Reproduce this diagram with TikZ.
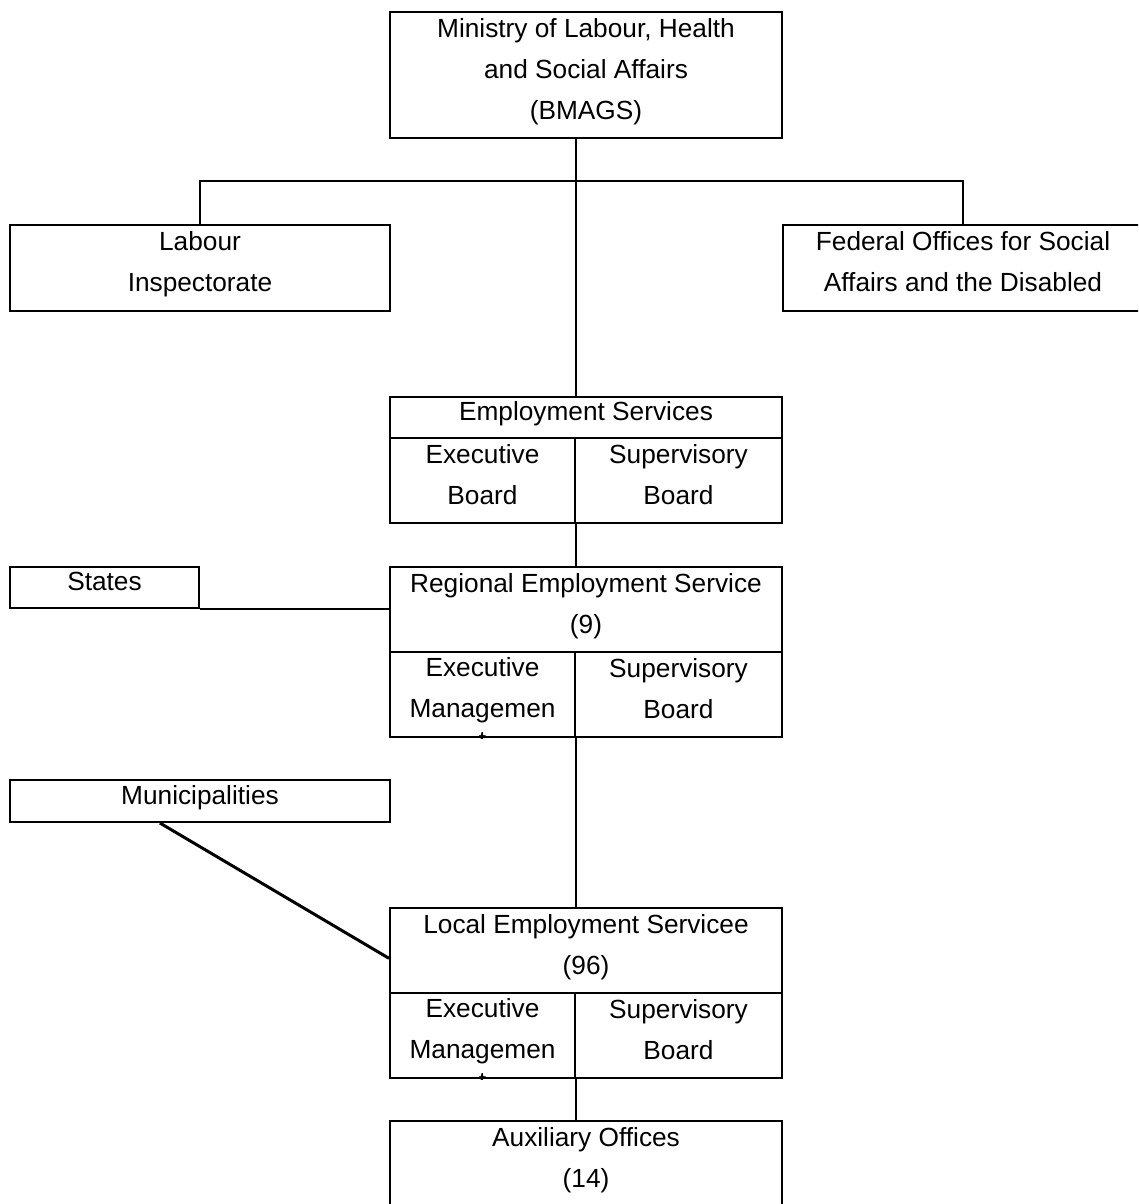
\documentclass[tikz,border=0pt]{standalone}
\usepackage{fontspec}
\setmainfont{Liberation Sans}
\usetikzlibrary{calc}
\begin{document}
\begin{tikzpicture}[x=0.4pt,y=-0.4pt,
  every node/.style={font=\fontsize{10.5}{16.4}\selectfont,align=center,inner sep=0pt,text depth=5pt},
  box/.style={draw,rectangle,line width=.8pt},
  link/.style={line width=.8pt}]
\clip (0,0) rectangle (1138,1204);
\fill [white] (0,0) rectangle (1138,1204);
% ministry and its offices
\node [box,minimum width=156.8pt,minimum height=50.4pt] (min) at (586,75) {Ministry of Labour, Health\\and Social Affairs\\(BMAGS)};
\node [box,minimum width=152pt,minimum height=34.4pt] (lab) at (200,268) {Labour\\Inspectorate};
\node [box,minimum width=144pt,minimum height=34.4pt] (fed) at (963,268) {Federal Offices for Social\\Affairs and the Disabled};
% employment services
\node [box,minimum width=156.8pt,minimum height=16.4pt] (es) at (586,417.5) {Employment Services};
\node [box,minimum width=74pt,minimum height=34pt] (esx) at (482.5,480.5) {Executive\\Board};
\node [box,minimum width=82.8pt,minimum height=34pt] (esy) at (678.5,480.5) {Supervisory\\Board};
% regional level
\node [box,minimum width=75.6pt,minimum height=16.4pt] (sta) at (104.5,587.5) {States};
\node [box,minimum width=156.8pt,minimum height=34pt] (reg) at (586,609.5) {Regional Employment Service\\(9)};
\node [box,minimum width=74pt,minimum height=34pt] (regx) at (482.5,694.5) {};
\begin{scope}
  \clip (regx.north west) rectangle (regx.south east);
  \node [anchor=north] at ($(regx.north)+(0,6)$) {Executive\\Managemen\\[-3.5pt]t};
\end{scope}
\node [box,minimum width=82.8pt,minimum height=34pt] (regy) at (678.5,694.5) {Supervisory\\Board};
% local level
\node [box,minimum width=152pt,minimum height=16.8pt] (mun) at (200,801) {Municipalities};
\node [box,minimum width=156.8pt,minimum height=34pt] (loc) at (586,950.5) {Local Employment Servicee\\(96)};
\node [box,minimum width=74pt,minimum height=34pt] (locx) at (482.5,1035.5) {};
\begin{scope}
  \clip (locx.north west) rectangle (locx.south east);
  \node [anchor=north] at ($(locx.north)+(0,6)$) {Executive\\Managemen\\[-3.5pt]t};
\end{scope}
\node [box,minimum width=82.8pt,minimum height=34pt] (locy) at (678.5,1035.5) {Supervisory\\Board};
\node [box,minimum width=156.8pt,minimum height=34.4pt] (aux) at (586,1164) {Auxiliary Offices\\(14)};
% connectors
\draw [link] (min.south -| esx.east) -- (es.north -| esx.east);
\draw [link] (lab.north) |- ($(min.south)!.5!(lab.north)$) -| (fed.north);
\draw [link] (esx.south east) -- (reg.north -| esx.east);
\draw [link] (sta.south east) -- (sta.south east -| reg.west);
\draw [link] (regx.south east) -- (loc.north -| regx.east);
\draw [line width=1.2pt] ($(mun.south west)!.395!(mun.south east)$) -- ($(loc.north west)!.59!(loc.south west)$);
\draw [link] (locx.south east) -- (aux.north -| locx.east);
\end{tikzpicture}
\end{document}
